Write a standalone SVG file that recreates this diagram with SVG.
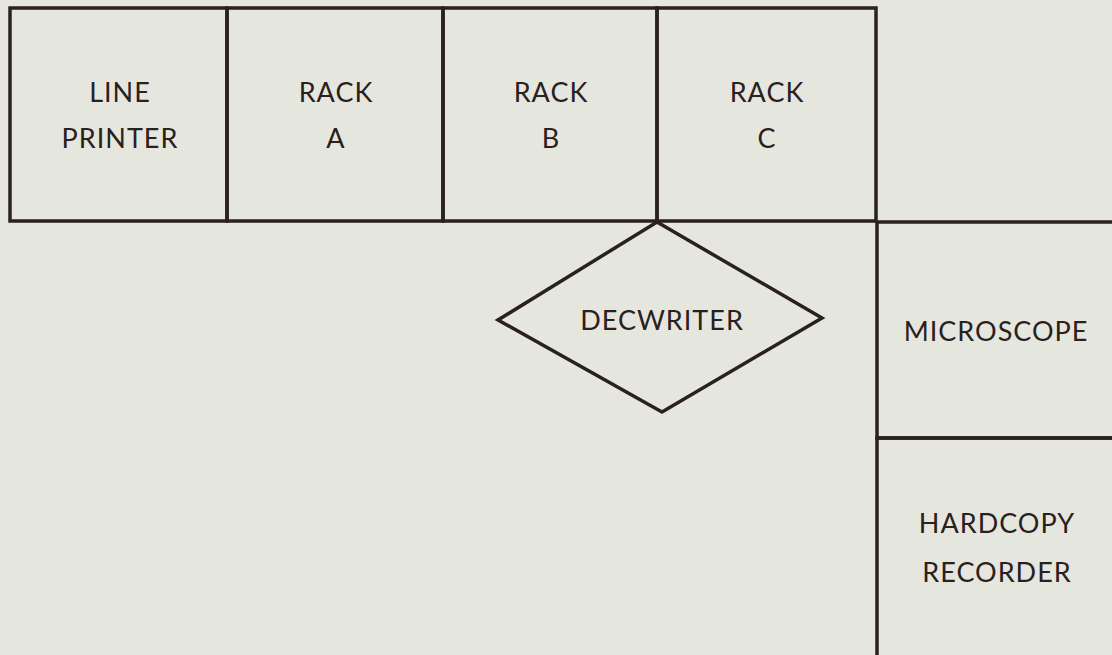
<svg xmlns="http://www.w3.org/2000/svg" width="1112" height="655" viewBox="0 0 1112 655">
<style>
.ln{fill:none;stroke:#2a201d;stroke-width:3.5;stroke-linejoin:miter}
.t{font-family:Lato,"Open Sans",sans-serif;font-size:27px;letter-spacing:1px;fill:#2a201d;text-anchor:middle}
</style>
<rect x="0" y="0" width="1112" height="655" fill="#e5e7df"/>
<g id="line-printer"><rect class="ln" x="10" y="8" width="217" height="213"/><text class="t" x="120" y="102">LINE</text><text class="t" x="120" y="148">PRINTER</text></g>
<g id="rack-a"><rect class="ln" x="227" y="8" width="216" height="213"/><text class="t" x="336" y="102">RACK</text><text class="t" x="336" y="148">A</text></g>
<g id="rack-b"><rect class="ln" x="443" y="8" width="214" height="213"/><text class="t" x="551" y="102">RACK</text><text class="t" x="551" y="148">B</text></g>
<g id="rack-c"><rect class="ln" x="657" y="8" width="219" height="213"/><text class="t" x="767" y="102">RACK</text><text class="t" x="767" y="148">C</text></g>
<g id="decwriter"><polygon class="ln" points="657,222 822,318 662,412 498,320"/><text class="t" x="662" y="330">DECWRITER</text></g>
<g id="microscope"><path class="ln" d="M1112,222 H877 V438 H1112"/><text class="t" x="996" y="341">MICROSCOPE</text></g>
<g id="hardcopy-recorder"><path class="ln" d="M1112,438 H877 V660"/><text class="t" x="997" y="533">HARDCOPY</text><text class="t" x="997" y="582">RECORDER</text></g>
<g id="connectors"></g>
</svg>
